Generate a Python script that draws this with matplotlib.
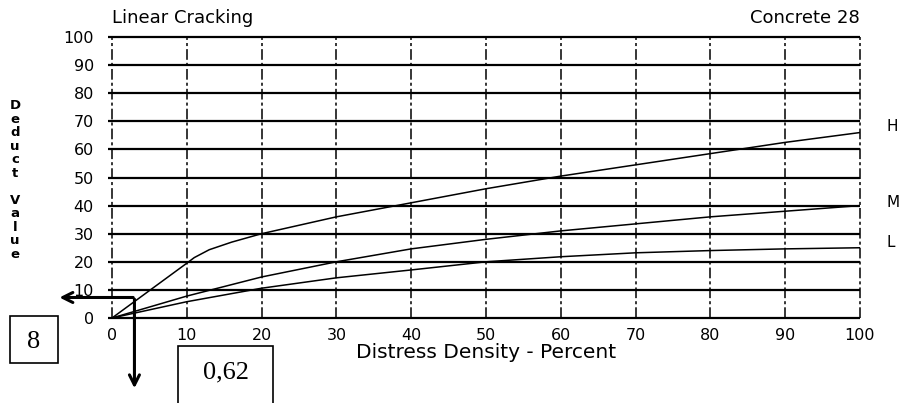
import numpy as np
import matplotlib
matplotlib.use("Agg")
import matplotlib.pyplot as plt
from matplotlib.patches import Rectangle

# values (deduct value vs distress density)
h_x = [0, 10, 11, 13, 16, 20, 25, 30, 40, 50, 60, 70, 80, 90, 100]
h_y = [0, 19.5, 21.5, 24.3, 27, 30, 33, 36, 41, 46, 50.5, 54.5, 58.5, 62.5, 66]
m_x = [0, 10, 20, 30, 40, 50, 60, 70, 80, 90, 100]
m_y = [0, 7.8, 14.6, 20, 24.6, 28, 31, 33.5, 36, 38, 40]
l_x = [0, 10, 20, 30, 40, 50, 60, 70, 80, 90, 100]
l_y = [0, 5.8, 10.6, 14.3, 17.1, 20, 21.8, 23.2, 24, 24.6, 25]
curve_names = ["H", "M", "L"]
name_y = [68, 41, 27]

x_ticks = list(range(0, 101, 10))
y_ticks = list(range(0, 101, 10))

# the hand-drawn read-off: density 0,62 -> deduct 8
read_x = 3.0
read_y = 7.3
read_labels = ["8", "0,62"]

W, H = 902, 403
fig = plt.figure(figsize=(W / 100, H / 100), dpi=100)
ax = fig.add_axes([112 / W, 1 - 318 / H, (860 - 112) / W, (318 - 37) / H])

for v in y_ticks:
    ax.plot([-0.5, 100], [v, v], color="black", lw=1.6, solid_capstyle="butt", clip_on=False)
for v in x_ticks:
    ax.plot([v, v], [0, 100], color="black", lw=1.1, ls=(0, (7, 2, 2, 2)), clip_on=False)

for xs, ys in [(h_x, h_y), (m_x, m_y), (l_x, l_y)]:
    ax.plot(xs, ys, color="black", lw=1.1)

for name, yy in zip(curve_names, name_y):
    ax.text(103.5, yy, name, fontsize=11, ha="left", va="center")

ax.set_xlim(0, 100)
ax.set_ylim(0, 100)
ax.set_xticks(x_ticks)
ax.set_yticks(y_ticks)
ax.tick_params(length=0, labelsize=11.5, pad=7)
ax.tick_params(axis="y", pad=13)
for s in ax.spines.values():
    s.set_visible(False)

ax.set_xlabel("Distress Density - Percent", fontsize=14.5, labelpad=0)
ax.text(0, 103.5, "Linear Cracking", fontsize=13, ha="left", va="bottom")
ax.text(100, 103.5, "Concrete 28", fontsize=13, ha="right", va="bottom")
fig.text(15 / W, 1 - 180 / H, "\n".join("Deduct Value"), fontsize=9.5,
         ha="center", va="center", linespacing=1.05, fontweight="bold")

# arrows of the read-off
ax.annotate("", xy=(-7.4, read_y), xytext=(read_x + 0.2, read_y),
            arrowprops=dict(arrowstyle="->", lw=2.2, color="black", mutation_scale=18),
            annotation_clip=False)
ax.annotate("", xy=(read_x, -26), xytext=(read_x, read_y + 0.4),
            arrowprops=dict(arrowstyle="->", lw=2.2, color="black", mutation_scale=18),
            annotation_clip=False)

# boxed values
boxes = [(10, 316, 48, 47), (178, 346, 95, 60)]
for (bx, by, bw, bh), lab in zip(boxes, read_labels):
    fig.add_artist(Rectangle((bx / W, 1 - (by + bh) / H), bw / W, bh / H,
                             transform=fig.transFigure, fill=False, lw=1.2, ec="black"))
    fig.text((bx + bw / 2) / W, 1 - (by + 26) / H, lab, family="Liberation Serif",
             fontsize=19, ha="center", va="center")

fig.savefig("out.png", dpi=100)
